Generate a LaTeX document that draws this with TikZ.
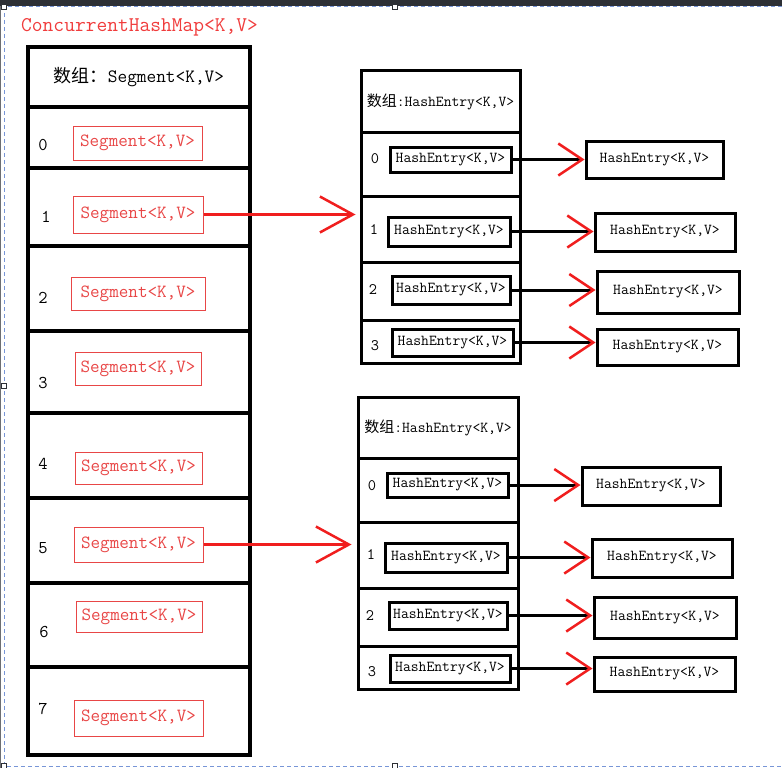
\documentclass[tikz,border=0pt]{standalone}
\usepackage{fontspec}
\newfontfamily\cjk{Noto Sans CJK SC}
\usetikzlibrary{arrows.meta}
\definecolor{segred}{RGB}{232,70,70}
\definecolor{titred}{RGB}{240,60,60}
\definecolor{arrred}{RGB}{240,30,30}
\definecolor{selblue}{RGB}{120,150,215}
\definecolor{barcol}{RGB}{45,48,53}
\newcommand\rbox[7]{\node[#6, minimum width={#4pt-#2pt}, minimum height={#5pt-#3pt}] (#1) at ({(#2+#4)/2},{(#3+#5)/2}) {#7};}
\tikzset{
  tbl/.style={draw, line width=4pt, inner sep=0pt},
  tblsm/.style={draw, line width=3pt, inner sep=0pt, font=\ttfamily\fontsize{15.2}{17}\selectfont},
  seg/.style={draw=segred, line width=1pt, text=segred, inner sep=0pt, font=\ttfamily\fontsize{18.6}{20}\selectfont},
  ent/.style={draw, line width=3pt, inner sep=0pt, font=\ttfamily\fontsize{15.2}{17}\selectfont},
  idx/.style={inner sep=0pt, font=\ttfamily\fontsize{18}{20}\selectfont},
  idxsm/.style={inner sep=0pt, font=\ttfamily\fontsize{16}{18}\selectfont},
  link/.style={line width=3pt, -{Straight Barb[length=24pt,width=32pt,color=arrred,line width=2.5pt]}},
  bigarrow/.style={arrred, line width=2.5pt, -{Straight Barb[length=33pt,width=36pt]}},
  handle/.style={draw=barcol, fill=white, line width=0.6pt, minimum size=5pt, inner sep=0pt}
}
\begin{document}
\begin{tikzpicture}[x=1pt,y=-1pt]
\useasboundingbox (0,0) rectangle (782,768);
% editor frame
\fill[barcol] (0,0) rectangle (782,6);
\fill[barcol!70] (0,6) rectangle (1.2,768);
\draw[selblue, line width=1pt, dash pattern=on 4pt off 3pt] (782,7) -- (4,7) -- (4,766) -- (782,766);
\node[handle] (h1) at (4,7) {};
\node[handle] (h2) at (395,7) {};
\node[handle] (h3) at (4,386) {};
\node[handle] (h4) at (4,766) {};
\node[handle] (h5) at (395,766) {};
% title
\node[anchor=west, inner sep=0pt, text=titred, font=\ttfamily\fontsize{20.9}{22}\selectfont] (title) at (21,27) {ConcurrentHashMap<K,V>};
% left table
\rbox{lh}{28}{47}{250}{107}{tbl}{{\cjk\fontsize{18}{20}\selectfont 数组：}\ttfamily\fontsize{18.8}{20}\selectfont Segment<K,V>}
\rbox{c0}{28}{107}{250}{168}{tbl}{}
\rbox{c1}{28}{168}{250}{246}{tbl}{}
\rbox{c2}{28}{246}{250}{331}{tbl}{}
\rbox{c3}{28}{331}{250}{413}{tbl}{}
\rbox{c4}{28}{413}{250}{498}{tbl}{}
\rbox{c5}{28}{498}{250}{583}{tbl}{}
\rbox{c6}{28}{583}{250}{667}{tbl}{}
\rbox{c7}{28}{667}{250}{755}{tbl}{}
\node[idx] (i0) at (43,145) {0};
\node[idx] (i1) at (46,217) {1};
\node[idx] (i2) at (43,298) {2};
\node[idx] (i3) at (43,383) {3};
\node[idx] (i4) at (43,464) {4};
\node[idx] (i5) at (43,548) {5};
\node[idx] (i6) at (44,632) {6};
\node[idx] (i7) at (43,709) {7};
\rbox{s0}{73}{126}{202}{160}{seg}{Segment<K,V>}
\rbox{s1}{73}{196}{203}{233}{seg}{Segment<K,V>}
\rbox{s2}{71}{277}{205}{310}{seg}{Segment<K,V>}
\rbox{s3}{75}{352}{201}{385}{seg}{Segment<K,V>}
\rbox{s4}{75}{452}{202}{484}{seg}{Segment<K,V>}
\rbox{s5}{74}{527}{203}{562}{seg}{Segment<K,V>}
\rbox{s6}{76}{601}{202}{632}{seg}{Segment<K,V>}
\rbox{s7}{74}{700}{203}{736}{seg}{Segment<K,V>}
% upper HashEntry table
\rbox{uh}{361}{71}{520}{132}{tblsm}{{\cjk\fontsize{15}{17}\selectfont 数组}:HashEntry<K,V>}
\rbox{u0}{361}{132}{520}{196}{tblsm}{}
\rbox{u1}{361}{196}{520}{262}{tblsm}{}
\rbox{u2}{361}{262}{520}{320}{tblsm}{}
\rbox{u3}{361}{320}{520}{363}{tblsm}{}
\node[idxsm] (ui0) at (375,159) {0};
\node[idxsm] (ui1) at (374,230) {1};
\node[idxsm] (ui2) at (373,290) {2};
\node[idxsm] (ui3) at (375,346) {3};
\rbox{ue0}{390}{147}{511}{172}{ent}{HashEntry<K,V>}
\rbox{ue1}{388}{217}{510}{246}{ent}{HashEntry<K,V>}
\rbox{ue2}{392}{276}{510}{304}{ent}{HashEntry<K,V>}
\rbox{ue3}{392}{329}{513}{356}{ent}{HashEntry<K,V>}
\rbox{ur0}{586}{141}{723}{178}{ent}{HashEntry<K,V>}
\rbox{ur1}{595}{213}{735}{251}{ent}{HashEntry<K,V>}
\rbox{ur2}{597}{271}{739}{313}{ent}{HashEntry<K,V>}
\rbox{ur3}{597}{329}{738}{365}{ent}{HashEntry<K,V>}
% lower HashEntry table
\rbox{lh2}{358}{397}{518}{458}{tblsm}{{\cjk\fontsize{15}{17}\selectfont 数组}:HashEntry<K,V>}
\rbox{l0}{358}{458}{518}{522}{tblsm}{}
\rbox{l1}{358}{522}{518}{588}{tblsm}{}
\rbox{l2}{358}{588}{518}{646}{tblsm}{}
\rbox{l3}{358}{646}{518}{689}{tblsm}{}
\node[idxsm] (li0) at (372,486) {0};
\node[idxsm] (li1) at (371,555) {1};
\node[idxsm] (li2) at (370,616) {2};
\node[idxsm] (li3) at (372,672) {3};
\rbox{le0}{387}{473}{508}{497}{ent}{HashEntry<K,V>}
\rbox{le1}{385}{543}{507}{572}{ent}{HashEntry<K,V>}
\rbox{le2}{389}{602}{507}{629}{ent}{HashEntry<K,V>}
\rbox{le3}{390}{655}{510}{682}{ent}{HashEntry<K,V>}
\rbox{lr0}{582}{467}{720}{505}{ent}{HashEntry<K,V>}
\rbox{lr1}{592}{539}{732}{577}{ent}{HashEntry<K,V>}
\rbox{lr2}{594}{597}{736}{638}{ent}{HashEntry<K,V>}
\rbox{lr3}{594}{657}{735}{691}{ent}{HashEntry<K,V>}
% entry links
\draw[link] (ue0.east) -- (ue0.east -| ur0.west);
\draw[link] (ue1.east) -- (ue1.east -| ur1.west);
\draw[link] (ue2.east) -- (ue2.east -| ur2.west);
\draw[link] (ue3.east) -- (ue3.east -| ur3.west);
\draw[link] (le0.east) -- (le0.east -| lr0.west);
\draw[link] (le1.east) -- (le1.east -| lr1.west);
\draw[link] (le2.east) -- (le2.east -| lr2.west);
\draw[link] (le3.east) -- (le3.east -| lr3.west);
% segment to table arrows
\draw[bigarrow, shorten >=4pt] (s1.east) -- (s1.east -| u1.west);
\draw[bigarrow, shorten >=5pt] (s5.east) -- (s5.east -| l1.west);
\end{tikzpicture}
\end{document}
